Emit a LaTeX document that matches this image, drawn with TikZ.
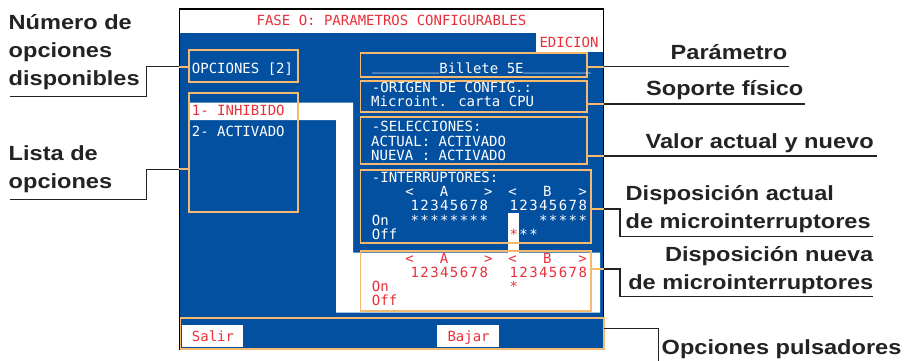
\documentclass[tikz,border=0pt]{standalone}
\usepackage{fontspec}
\usetikzlibrary{fit}
\newfontfamily\scrfont{DejaVu Sans Mono}
\newfontfamily\lblfont[FakeStretch=1.15]{Liberation Sans}
\definecolor{scrblue}{RGB}{4,80,160}
\definecolor{boxorange}{RGB}{245,185,112}
\definecolor{scrred}{RGB}{232,48,58}
\definecolor{lblgray}{RGB}{35,35,35}
\newcommand{\unders}{\raisebox{3pt}{\_\_\_\_\_\_\_\_}}

\begin{document}
\begin{tikzpicture}[
		x=1pt, y=-1pt,
		screen/.style={draw=black, line width=1.5pt, fill=scrblue, inner sep=0pt},
		opt box/.style={draw=boxorange, line width=1.8pt, inner sep=0pt},
		white box/.style={fill=white, inner sep=0pt},
		scr text/.style={font=\scrfont\fontsize{14}{14}\selectfont, text=white, inner sep=0pt, anchor=base west},
		red text/.style={scr text, text=scrred},
		lbl text/.style={font=\lblfont\bfseries\fontsize{20.5}{27.8}\selectfont, text=lblgray, inner sep=0pt},
		leader/.style={draw=lblgray, line width=1.5pt},
		stub/.style={draw=boxorange, line width=1.8pt}
	]
		\useasboundingbox (0,0) rectangle (905,361);

		\node[screen, fit={(179.5,9) (603.5,349.5)}] (scr) {};
		\fill[white] (180.3,9.8) rectangle (602.7,33);
		\fill[white] (189.5,102.7) -- (353,102.7) -- (353,252.7) -- (600,252.7) -- (600,312.7)
			-- (336,312.7) -- (336,120) -- (189.5,120) -- cycle;
		\fill[white] (508.3,213.3) rectangle (519,252.7);

		\node[white box, fit={(536,33) (602.7,52)}] (edi) {};
		\node[white box, fit={(181.7,325) (242.7,347.3)}] (bsal) {};
		\node[white box, fit={(436.7,325) (499,347.3)}] (bbaj) {};

		\node[opt box, fit={(189,50) (297.7,81.7)}] (opc) {};
		\node[opt box, fit={(189,92.7) (297.7,212.3)}] (lst) {};
		\node[opt box, fit={(360.5,53.3) (586.7,77.3)}] (bil) {};
		\node[opt box, fit={(360.5,80.7) (586.7,111.7)}] (ori) {};
		\node[opt box, fit={(360.5,116.7) (586.7,164)}] (sel) {};
		\node[opt box, fit={(360.5,170) (590.7,243.3)}] (itr) {};
		\node[opt box, fit={(360.5,251) (590.7,310.7)}] (nue) {};
		\node[opt box, fit={(180.5,318.3) (604,348.8)}] (bot) {};

		\node[red text, anchor=base] (tit) at (391.5,26) {FASE O: PARAMETROS CONFIGURABLES};
		\node[red text, anchor=base] (tedi) at (569,47.3) {EDICION};
		\node[scr text] (topc) at (191.7,73.3) {OPCIONES [2]};
		\node[red text] (op1) at (191.7,115) {1- INHIBIDO};
		\node[scr text] (op2) at (191.7,136.7) {2- ACTIVADO};
		\node[scr text] (tbil) at (371.7,73.3) {\unders Billete 5E\unders};
		\node[scr text] (tori1) at (371.7,92.7) {-ORIGEN DE CONFIG.:};
		\node[scr text] (tori2) at (371,106.7) {Microint. carta CPU};
		\node[scr text] (tsel1) at (371.7,131.7) {-SELECCIONES:};
		\node[scr text] (tsel2) at (371,146) {ACTUAL: ACTIVADO};
		\node[scr text] (tsel3) at (371,160) {NUEVA : ACTIVADO};
		\node[scr text] (titr) at (371.7,182.7) {-INTERRUPTORES:};
		\node[scr text] (ion) at (371.7,225.7) {On};
		\node[scr text] (ioff) at (371.7,239.3) {Off};
		\node[red text] (non) at (371.7,291.7) {On};
		\node[red text] (noff) at (371.7,305.7) {Off};
		\node[red text] (tsal) at (191.7,341) {Salir};
		\node[red text] (tbaj) at (447.3,341) {Bajar};

		\foreach \x/\c/\n in {409.7/</lta, 444/A/ca, 488.3/>/gta, 512.7/</ltb, 547.3/B/cb, 582.7/>/gtb} {
			\node[scr text, anchor=base] (i\n) at (\x,196.7) {\c};
			\node[red text, anchor=base] (n\n) at (\x,263.3) {\c};
		}

		\foreach \k in {1,...,8} {
			\node[scr text, anchor=base] (ida\k) at ({414.8+9.85*(\k-1)},210.7) {\k};
			\node[scr text, anchor=base] (idb\k) at ({513.8+9.85*(\k-1)},210.7) {\k};
			\node[red text, anchor=base] (nda\k) at ({414.8+9.85*(\k-1)},277.7) {\k};
			\node[red text, anchor=base] (ndb\k) at ({513.8+9.85*(\k-1)},277.7) {\k};
			\node[scr text, anchor=base] (isa\k) at ({414.8+9.85*(\k-1)},225.7) {*};
		}
		\foreach \k in {4,...,8} {
			\node[scr text, anchor=base] (isb\k) at ({513.8+9.85*(\k-1)},225.7) {*};
		}
		\node[red text, anchor=base] (ifb1) at (513.8,239.3) {*};
		\foreach \k in {2,3} {
			\node[scr text, anchor=base] (ifb\k) at ({513.8+9.85*(\k-1)},239.3) {*};
		}
		\node[red text, anchor=base] (nsb1) at (513.8,291.7) {*};

		\node[lbl text, anchor=base west, align=left] (lnum) at (8.5,85) {Número de\\opciones\\disponibles};
		\node[lbl text, anchor=base west, align=left] (llst) at (8.5,188) {Lista de\\opciones};
		\node[lbl text, anchor=base west] (lpar) at (670.5,59.3) {Parámetro};
		\node[lbl text, anchor=base west] (lsop) at (646,95.7) {Soporte físico};
		\node[lbl text, anchor=base west] (lval) at (645.5,148.3) {Valor actual y nuevo};
		\node[lbl text, anchor=base west, align=left] (lact) at (625.5,228.3) {Disposición actual\\de microinterruptores};
		\node[lbl text, anchor=base east, align=right] (lnue) at (873.5,289.3) {Disposición nueva\\de microinterruptores};
		\node[lbl text, anchor=base west] (lbot) at (661.5,354) {Opciones pulsadores};

		\coordinate (knum) at (146.7,66.7);
		\coordinate (unum) at (10,96.7);
		\coordinate (klst) at (146.7,169.3);
		\coordinate (ulst) at (10,199.5);
		\coordinate (upar) at (789,66.7);
		\coordinate (usop) at (805,104);
		\coordinate (uval) at (877,156);
		\coordinate (kact) at (620,209);
		\coordinate (uact) at (873,236.7);
		\coordinate (knue) at (620,269);
		\coordinate (unue) at (873,296.7);
		\coordinate (kbot) at (658.3,328.3);
		\coordinate (ebot) at (658.3,362);

		\draw[stub] (knum -| opc.west) -- (knum -| scr.west);
		\draw[leader] (knum -| scr.west) -- (knum) |- (unum);
		\draw[stub] (klst -| lst.west) -- (klst -| scr.west);
		\draw[leader] (klst -| scr.west) -- (klst) |- (ulst);

		\foreach \u/\b in {upar/bil, usop/ori, uval/sel} {
			\draw[stub] (\u -| \b.east) -- (\u -| scr.east);
			\draw[leader] (\u -| scr.east) -- (\u);
		}
		\foreach \k/\u/\b in {kact/uact/itr, knue/unue/nue} {
			\draw[stub] (\k -| \b.east) -- (\k -| scr.east);
			\draw[leader] (\k -| scr.east) -- (\k) |- (\u);
		}
		\draw[leader] (kbot -| scr.east) -- (kbot) -- (ebot);

	\end{tikzpicture}
\end{document}
